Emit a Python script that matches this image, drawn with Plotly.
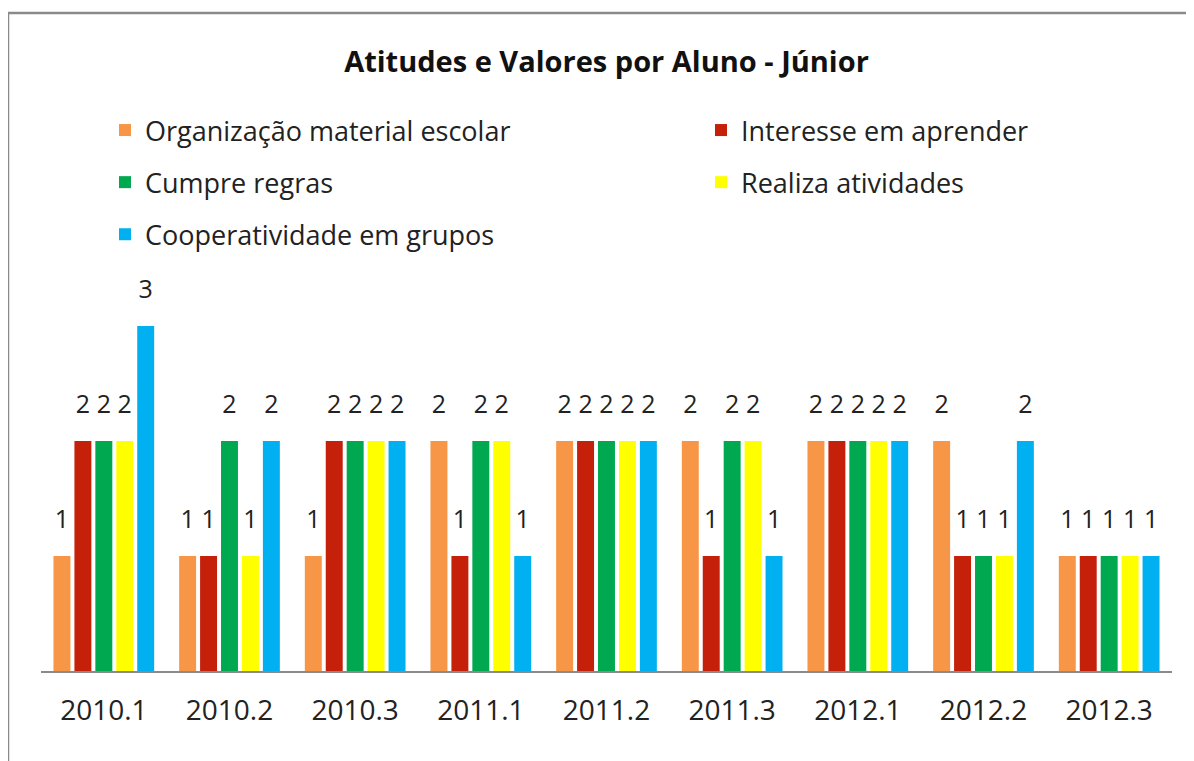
import plotly.graph_objects as go

categories = ["2010.1", "2010.2", "2010.3", "2011.1", "2011.2", "2011.3", "2012.1", "2012.2", "2012.3"]
organizacao = [1, 1, 1, 2, 2, 2, 2, 2, 1]
interesse = [2, 1, 2, 1, 2, 1, 2, 1, 1]
cumpre = [2, 2, 2, 2, 2, 2, 2, 1, 1]
realiza = [2, 1, 2, 2, 2, 2, 2, 1, 1]
cooperatividade = [3, 2, 2, 1, 2, 1, 2, 2, 1]

series = [
    ("Organização material escolar", organizacao, "#F79646", "legend"),
    ("Interesse em aprender", interesse, "#C4200A", "legend2"),
    ("Cumpre regras", cumpre, "#00A94F", "legend"),
    ("Realiza atividades", realiza, "#FFFF00", "legend2"),
    ("Cooperatividade em grupos", cooperatividade, "#00B0F0", "legend"),
]

FONT = "Open Sans"
OFF = 8  # page body margin
W, H = 1194 - OFF, 761 - OFF
ML, MR, MT, MB = 41 - OFF, 22, 250 - OFF, 90
PW = W - ML - MR
PH = H - MT - MB


def px(s):
    return (s - OFF - ML) / PW


def py(s):
    return (H - MB - (s - OFF)) / PH


fig = go.Figure()
for name, vals, color, leg in series:
    fig.add_trace(go.Bar(
        name=name, x=categories, y=vals, marker=dict(color=color, line=dict(width=0)),
        legend=leg, legendgroup=name,
    ))
for name, vals, color, leg in series:
    fig.add_trace(go.Scatter(
        x=categories, y=vals, mode="markers+text", text=[str(v) for v in vals],
        textposition="top center", textfont=dict(family=FONT, size=25, color="#222"),
        marker=dict(size=34, opacity=0), showlegend=False, hoverinfo="skip", cliponaxis=False,
    ))

leg_common = dict(orientation="v", xanchor="left", yanchor="top", tracegroupgap=14,
                  font=dict(family=FONT, size=27, color="#222"), bgcolor="rgba(0,0,0,0)")

fig.update_layout(
    width=W, height=H,
    margin=dict(l=ML, r=MR, t=MT, b=MB),
    paper_bgcolor="white", plot_bgcolor="white",
    barmode="group", bargap=0.167, bargroupgap=0.19,
    scattermode="group", scattergap=0.167,
    title=dict(text="<b>Atitudes e Valores por Aluno - Júnior</b>", x=0.5, xref="paper",
               y=1 - (62 - OFF) / H, yanchor="middle",
               font=dict(family=FONT, size=29, color="#111")),
    legend=dict(**leg_common, x=px(105), y=py(106)),
    legend2=dict(**leg_common, x=px(701), y=py(106)),
    xaxis=dict(showline=True, linecolor="#8a8a8a", linewidth=1.5, ticks="",
               tickfont=dict(family=FONT, size=28, color="#222"), ticklabelstandoff=14,
               showgrid=False, zeroline=False),
    yaxis=dict(range=[0, PH / 115], visible=False, showgrid=False, zeroline=False),
    showlegend=True,
    shapes=[dict(type="rect", xref="paper", yref="paper",
                 x0=px(8), x1=px(1210), y0=py(13), y1=py(780),
                 line=dict(color="#8a8a8a", width=2.5), fillcolor="rgba(0,0,0,0)", layer="below")],
)

fig.write_html("out.html")
